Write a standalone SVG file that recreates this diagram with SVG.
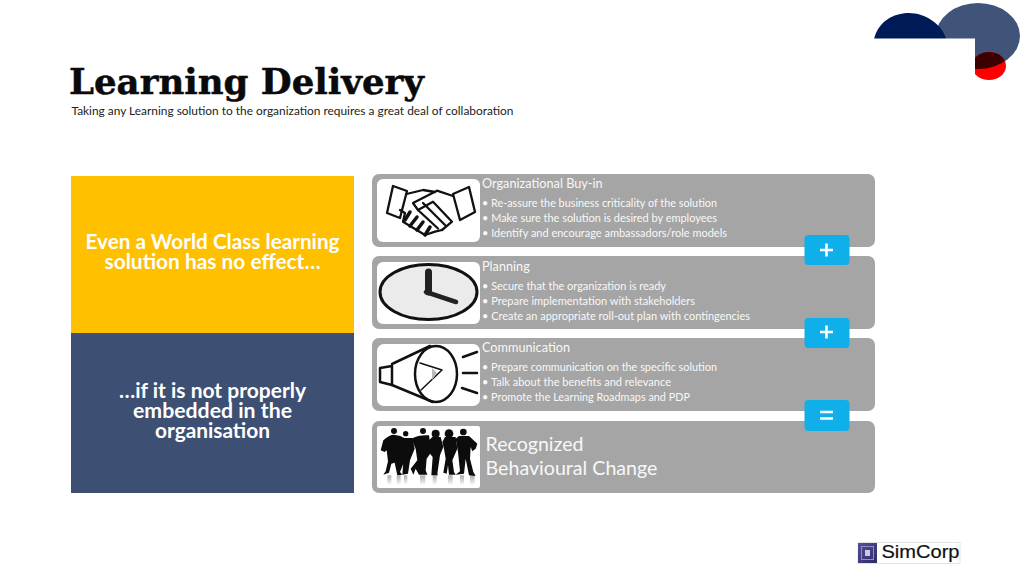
<svg xmlns="http://www.w3.org/2000/svg" width="1024" height="576" viewBox="0 0 1024 576">
<defs>
<clipPath id="blueClip"><ellipse cx="978" cy="36" rx="42" ry="33"/></clipPath>
<linearGradient id="fade" x1="0" y1="0" x2="0" y2="1"><stop offset="0" stop-color="#aaa"/><stop offset="1" stop-color="#fff"/></linearGradient>
<linearGradient id="logoFill" x1="0" y1="0" x2="1" y2="1"><stop offset="0" stop-color="#55509a"/><stop offset="1" stop-color="#2c2a66"/></linearGradient>
</defs>
<style>
.card{fill:#a5a5a5}
.pic{fill:#fff}
.h{font:12.7px Lato,"Open Sans",sans-serif;fill:#f8f8f8}
.b{font:10.9px Lato,"Open Sans",sans-serif;fill:#f8f8f8}
.big{font:20px Lato,"Open Sans",sans-serif;fill:#f8f8f8}
.pt{font:bold 20.5px Lato,"Open Sans",sans-serif;text-anchor:middle;fill:#fff}
.btn{fill:#0fb0ea}
.sym{stroke:#fff;stroke-width:2.6;fill:none}
.ink{stroke:#111;fill:none;stroke-linecap:round;stroke-linejoin:round}
</style>
<g id="decor">
<ellipse cx="978" cy="36" rx="42" ry="33" fill="#3f5478"/>
<path d="M874 39C878 22 893 13 909 13C925 13 942 24 946 39Z" fill="#001a58"/>
<ellipse cx="989" cy="66" rx="17" ry="14" fill="#fe0000"/>
<ellipse cx="989" cy="66" rx="17" ry="14" fill="#3c0000" clip-path="url(#blueClip)"/>
<rect x="874" y="38.500" width="101" height="50" fill="#fff"/>
</g>
<g id="title">
<text x="69" y="93.500" font-family="'DejaVu Serif',serif" font-weight="bold" font-size="36" fill="#0a0a0a" stroke="#0a0a0a" stroke-width=".5" textLength="355" lengthAdjust="spacingAndGlyphs">Learning Delivery</text>
<text x="71.500" y="114.500" font-family="Lato,'Open Sans',sans-serif" font-size="11.800" fill="#222" textLength="442" lengthAdjust="spacingAndGlyphs">Taking any Learning solution to the organization requires a great deal of collaboration</text>
</g>
<g id="left-top">
<rect x="71" y="176" width="283" height="157" fill="#ffc000"/>
<text class="pt" x="212.500" y="249" textLength="254" lengthAdjust="spacingAndGlyphs">Even a World Class learning</text>
<text class="pt" x="212.500" y="269" textLength="216" lengthAdjust="spacingAndGlyphs">solution has no effect…</text>
</g>
<g id="left-bottom">
<rect x="71" y="333" width="283" height="160" fill="#3d5073"/>
<text class="pt" x="212.500" y="398" textLength="187" lengthAdjust="spacingAndGlyphs">…if it is not properly</text>
<text class="pt" x="212.500" y="418" textLength="159" lengthAdjust="spacingAndGlyphs">embedded in the</text>
<text class="pt" x="212.500" y="438" textLength="115" lengthAdjust="spacingAndGlyphs">organisation</text>
</g>
<g id="card-buy-in">
<rect class="card" x="372" y="174" width="503" height="73" rx="7"/>
<rect class="pic" x="377" y="179" width="103" height="63" rx="6"/>
<g class="ink" stroke-width="2.300">
<path d="M393 186L407 191L400 218L387 213Z"/>
<path d="M453 194L469 187L475 212L460 220Z"/>
<path d="M406.500 194L423 190L435 192M453 196L437 190.700L413 203L418 210L433 201.700L452 221.700L442 230"/>
<path d="M423 203L445 225M418 210L438 228.500M400 210L405 213L403 221.700L425 235L435 231.700L442 230"/>
<path d="M410 212L405 220M417 217L410 226M423 222L417 230M430 227L425 235" stroke-width="3.500"/>
</g>
<text class="h" x="482" y="188">Organizational Buy-in</text>
<text class="b" x="482" y="207" textLength="235" lengthAdjust="spacingAndGlyphs">• Re-assure the business criticality of the solution</text>
<text class="b" x="482" y="222" textLength="235" lengthAdjust="spacingAndGlyphs">• Make sure the solution is desired by employees</text>
<text class="b" x="482" y="237" textLength="245" lengthAdjust="spacingAndGlyphs">• Identify and encourage ambassadors/role models</text>
</g>
<g id="card-planning">
<rect class="card" x="372" y="256" width="503" height="73" rx="7"/>
<rect class="pic" x="377" y="262" width="103" height="62" rx="6"/>
<ellipse cx="428.500" cy="292" rx="48.500" ry="27.500" fill="#ebebeb" stroke="#111" stroke-width="3"/>
<path d="M428.500 272V292" stroke="#222" stroke-width="7" stroke-linecap="round"/>
<path d="M426 292L456 302" stroke="#222" stroke-width="4.500" stroke-linecap="round"/>
<text class="h" x="482" y="270.500">Planning</text>
<text class="b" x="482" y="290" textLength="184" lengthAdjust="spacingAndGlyphs">• Secure that the organization is ready</text>
<text class="b" x="482" y="305" textLength="213" lengthAdjust="spacingAndGlyphs">• Prepare implementation with stakeholders</text>
<text class="b" x="482" y="320" textLength="268" lengthAdjust="spacingAndGlyphs">• Create an appropriate roll-out plan with contingencies</text>
</g>
<g id="card-communication">
<rect class="card" x="372" y="338" width="503" height="73" rx="7"/>
<rect class="pic" x="377" y="344" width="103" height="62" rx="7"/>
<g class="ink" stroke-width="2.500">
<path d="M392 366L380 368V382L392 385Z"/>
<path d="M392 364L430 346M392 385L433 402"/>
<ellipse cx="436" cy="374" rx="21" ry="28"/>
<path d="M420 363L442 370L421 390" stroke-width="1.500"/>
<path d="M463 357L477 352M463 373H477M462 388L477 393"/>
</g>
<path d="M437 373L432 368V380Z" fill="#bbb"/>
<text class="h" x="482" y="352">Communication</text>
<text class="b" x="482" y="371" textLength="235" lengthAdjust="spacingAndGlyphs">• Prepare communication on the specific solution</text>
<text class="b" x="482" y="386" textLength="189" lengthAdjust="spacingAndGlyphs">• Talk about the benefits and relevance</text>
<text class="b" x="482" y="401" textLength="208" lengthAdjust="spacingAndGlyphs">• Promote the Learning Roadmaps and PDP</text>
</g>
<g id="card-result">
<rect class="card" x="372" y="421" width="503" height="72" rx="7"/>
<rect class="pic" x="377" y="426" width="103" height="62" rx="2"/>
<g transform="translate(374 422) scale(.33333)">
<g fill="url(#fade)"><rect x="40" y="160" width="12" height="30"/><rect x="68" y="160" width="12" height="30"/><rect x="90" y="160" width="10" height="28"/><rect x="138" y="160" width="16" height="30"/><rect x="176" y="160" width="12" height="30"/><rect x="222" y="160" width="14" height="30"/><rect x="258" y="160" width="12" height="30"/><rect x="288" y="160" width="14" height="30"/></g>
<g fill="#0c0c0c">
<circle cx="60" cy="27" r="9"/><path d="M20 85L28 55Q45 38 60 38Q80 40 95 50L100 120L88 125L78 150L85 158L70 160L62 122L52 125L45 152L28 158L35 148L42 118L38 85L32 90Z"/>
<circle cx="95" cy="35" r="8"/><path d="M80 48H115L122 80L108 115L102 155L85 158L88 120L80 95Z"/>
<circle cx="147" cy="27" r="9"/><path d="M112 50Q135 38 165 40L172 90L158 110L155 145L160 158L135 158L125 140L118 158L110 140L130 115L125 80Z"/>
<circle cx="185" cy="35" r="12"/><path d="M165 55L175 45H200L208 75L198 100L190 155L192 160L172 160L176 105L168 95Z"/>
<circle cx="225" cy="35" r="13"/><path d="M205 60L213 45H245L250 80L235 115L240 150L245 158L225 158L222 130L218 155L208 152L215 110L210 80Z"/>
<circle cx="268" cy="30" r="10"/><path d="M245 50L255 42H285L310 65L305 80L295 88L290 75L288 110L298 150L305 162L285 160L275 110L270 155L245 158L258 148L252 90Z"/>
</g>
</g>
<text class="big" x="485.500" y="451" textLength="98" lengthAdjust="spacingAndGlyphs">Recognized</text>
<text class="big" x="485.500" y="475" textLength="172" lengthAdjust="spacingAndGlyphs">Behavioural Change</text>
</g>
<g id="op-plus-1">
<rect class="btn" x="804.500" y="235" width="45" height="30" rx="4"/>
<path class="sym" d="M820 250H833M826.500 243.500V256.500"/>
</g>
<g id="op-plus-2">
<rect class="btn" x="804.500" y="318" width="45" height="30" rx="4"/>
<path class="sym" d="M820 332H833M826.500 325.500V338.500"/>
</g>
<g id="op-equals">
<rect class="btn" x="804.500" y="400" width="45" height="31" rx="4"/>
<path class="sym" d="M820 412H833M820 418.500H833"/>
</g>
<g id="logo">
<rect x="858" y="542.500" width="102" height="21" fill="#fff" stroke="#ddd" stroke-width="0.800"/>
<rect x="858" y="543" width="19" height="20" fill="url(#logoFill)"/>
<rect x="861.500" y="546.500" width="12" height="13" fill="none" stroke="#8f8fbc"/>
<rect x="865" y="550" width="5" height="6" fill="#c9c9e0"/>
<text x="881.500" y="558" font-family="'Liberation Sans',sans-serif" font-size="18" fill="#111" stroke="#111" stroke-width=".2" textLength="78" lengthAdjust="spacingAndGlyphs">SimCorp</text>
</g>
<g id="connectors"></g>
</svg>
